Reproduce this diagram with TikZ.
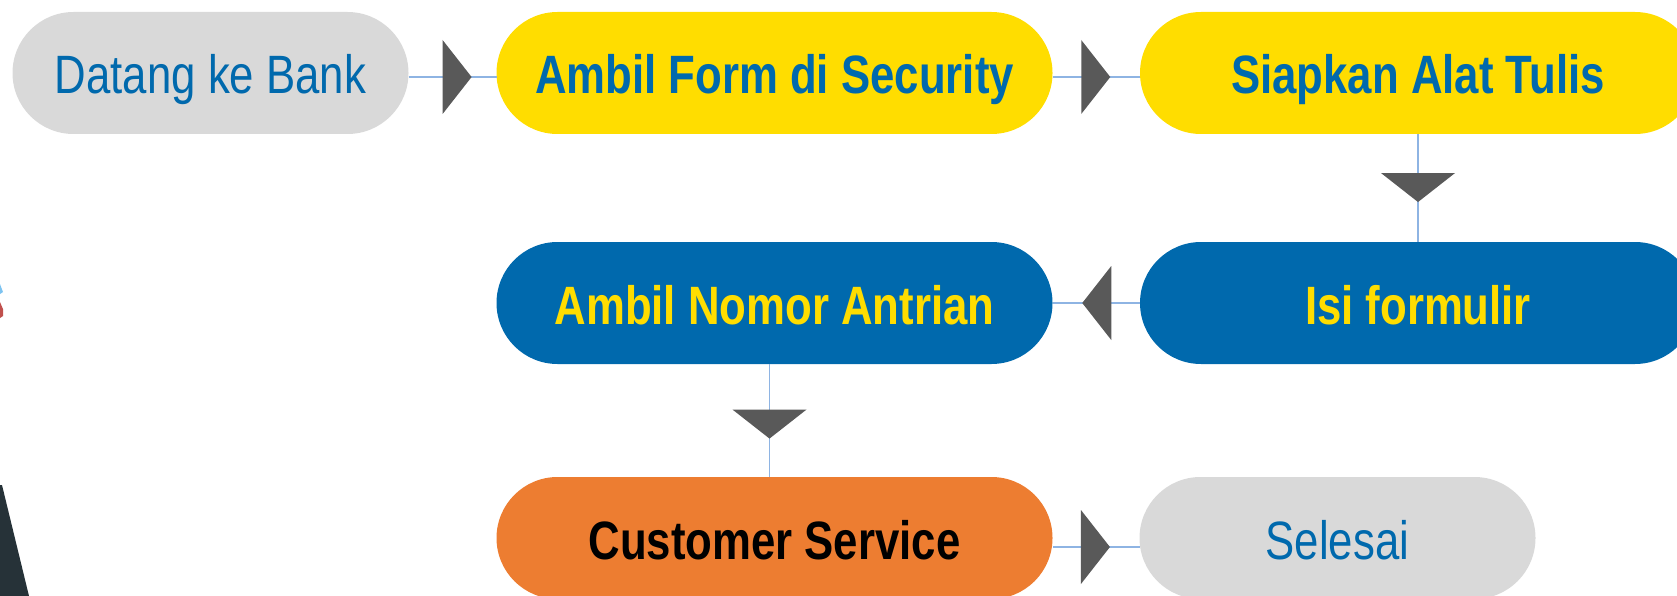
\documentclass[tikz,border=0pt]{standalone}
\usepackage{fontspec}
\newfontfamily\narrowsans{Liberation Sans}[FakeStretch=0.81]
\definecolor{boxgrey}{HTML}{D9D9D9}
\definecolor{boxyellow}{HTML}{FFDD00}
\definecolor{boxblue}{HTML}{0069AD}
\definecolor{boxorange}{HTML}{ED7D31}
\definecolor{tipgrey}{HTML}{595959}
\definecolor{linkblue}{HTML}{8EB4E3}
\definecolor{figdark}{HTML}{263238}
\definecolor{figblue}{HTML}{7DC3F0}
\definecolor{figred}{HTML}{C0504D}
\begin{document}
\begin{tikzpicture}[x=1pt,y=-1pt,
        stage/.style={rectangle,rounded corners=61pt,minimum height=122pt,
            inner sep=0pt,outer sep=0pt,text height=42pt,text depth=0pt,
            font=\narrowsans\fontsize{54}{60}\selectfont},
        wide/.style={stage,minimum width=556pt,font=\narrowsans\bfseries\fontsize{54}{60}\selectfont},
        short/.style={stage,minimum width=396pt},
        link/.style={linkblue,line width=1.5pt},
        tipfill/.style={tipgrey}]
    \clip (0,0) rectangle (1677,596);
    %% pieces of the figure at the left edge
    \fill[figdark] (0,485) -- (2,485) -- (29,596) -- (0,596) -- cycle;
    \fill[figblue] (0,284) -- (3,292) -- (0,294) -- cycle;
    \fill[figred] (0,302) -- (3,309) -- (3,316) -- (0,318) -- cycle;
    %% first row
    \node[short,fill=boxgrey,text=boxblue] (datang) at (210.5,73) {Datang ke Bank};
    \node[wide,fill=boxyellow,text=boxblue] (form) at (774.5,73) {Ambil Form di Security};
    \node[wide,fill=boxyellow,text=boxblue] (siap) at (1418,73) {Siapkan Alat Tulis};
    %% second row
    \node[wide,fill=boxblue,text=boxyellow] (isi) at (1418,303) {Isi formulir};
    \node[wide,fill=boxblue,text=boxyellow] (nomor) at (774.5,303) {Ambil Nomor Antrian};
    %% third row
    \node[wide,fill=boxorange,text=black] (cs) at (774.5,538) {Customer Service};
    \node[short,fill=boxgrey,text=boxblue] (selesai) at (1337.5,538) {Selesai};
    %% connectors
    \draw[link] ([yshift=-4pt]datang.east) -- coordinate[pos=0.717] (t1) ([yshift=-4pt]form.west);
    \draw[link] ([yshift=-4pt]form.east) -- coordinate[pos=0.66] (t2) ([yshift=-4pt]siap.west);
    \draw[link] (siap.south) -- coordinate[pos=0.63] (t3) (isi.north);
    \draw[link] (isi.west) -- coordinate[pos=0.66] (t4) (nomor.east);
    \draw[link] ([xshift=-5pt]nomor.south) -- coordinate[pos=0.66] (t5) ([xshift=-5pt]cs.north);
    \draw[link] ([yshift=-9pt]cs.east) -- coordinate[pos=0.66] (t6) ([yshift=-9pt]selesai.west);
    %% arrow heads
    \fill[tipfill] (t1) -- ++(-29,-37) -- ++(0,74) -- cycle;
    \fill[tipfill] (t2) -- ++(-29,-37) -- ++(0,74) -- cycle;
    \fill[tipfill] (t3) -- ++(-37,-29) -- ++(74,0) -- cycle;
    \fill[tipfill] (t4) -- ++(29,-37) -- ++(0,74) -- cycle;
    \fill[tipfill] (t5) -- ++(-37,-29) -- ++(74,0) -- cycle;
    \fill[tipfill] (t6) -- ++(-29,-37) -- ++(0,74) -- cycle;
\end{tikzpicture}
\end{document}
